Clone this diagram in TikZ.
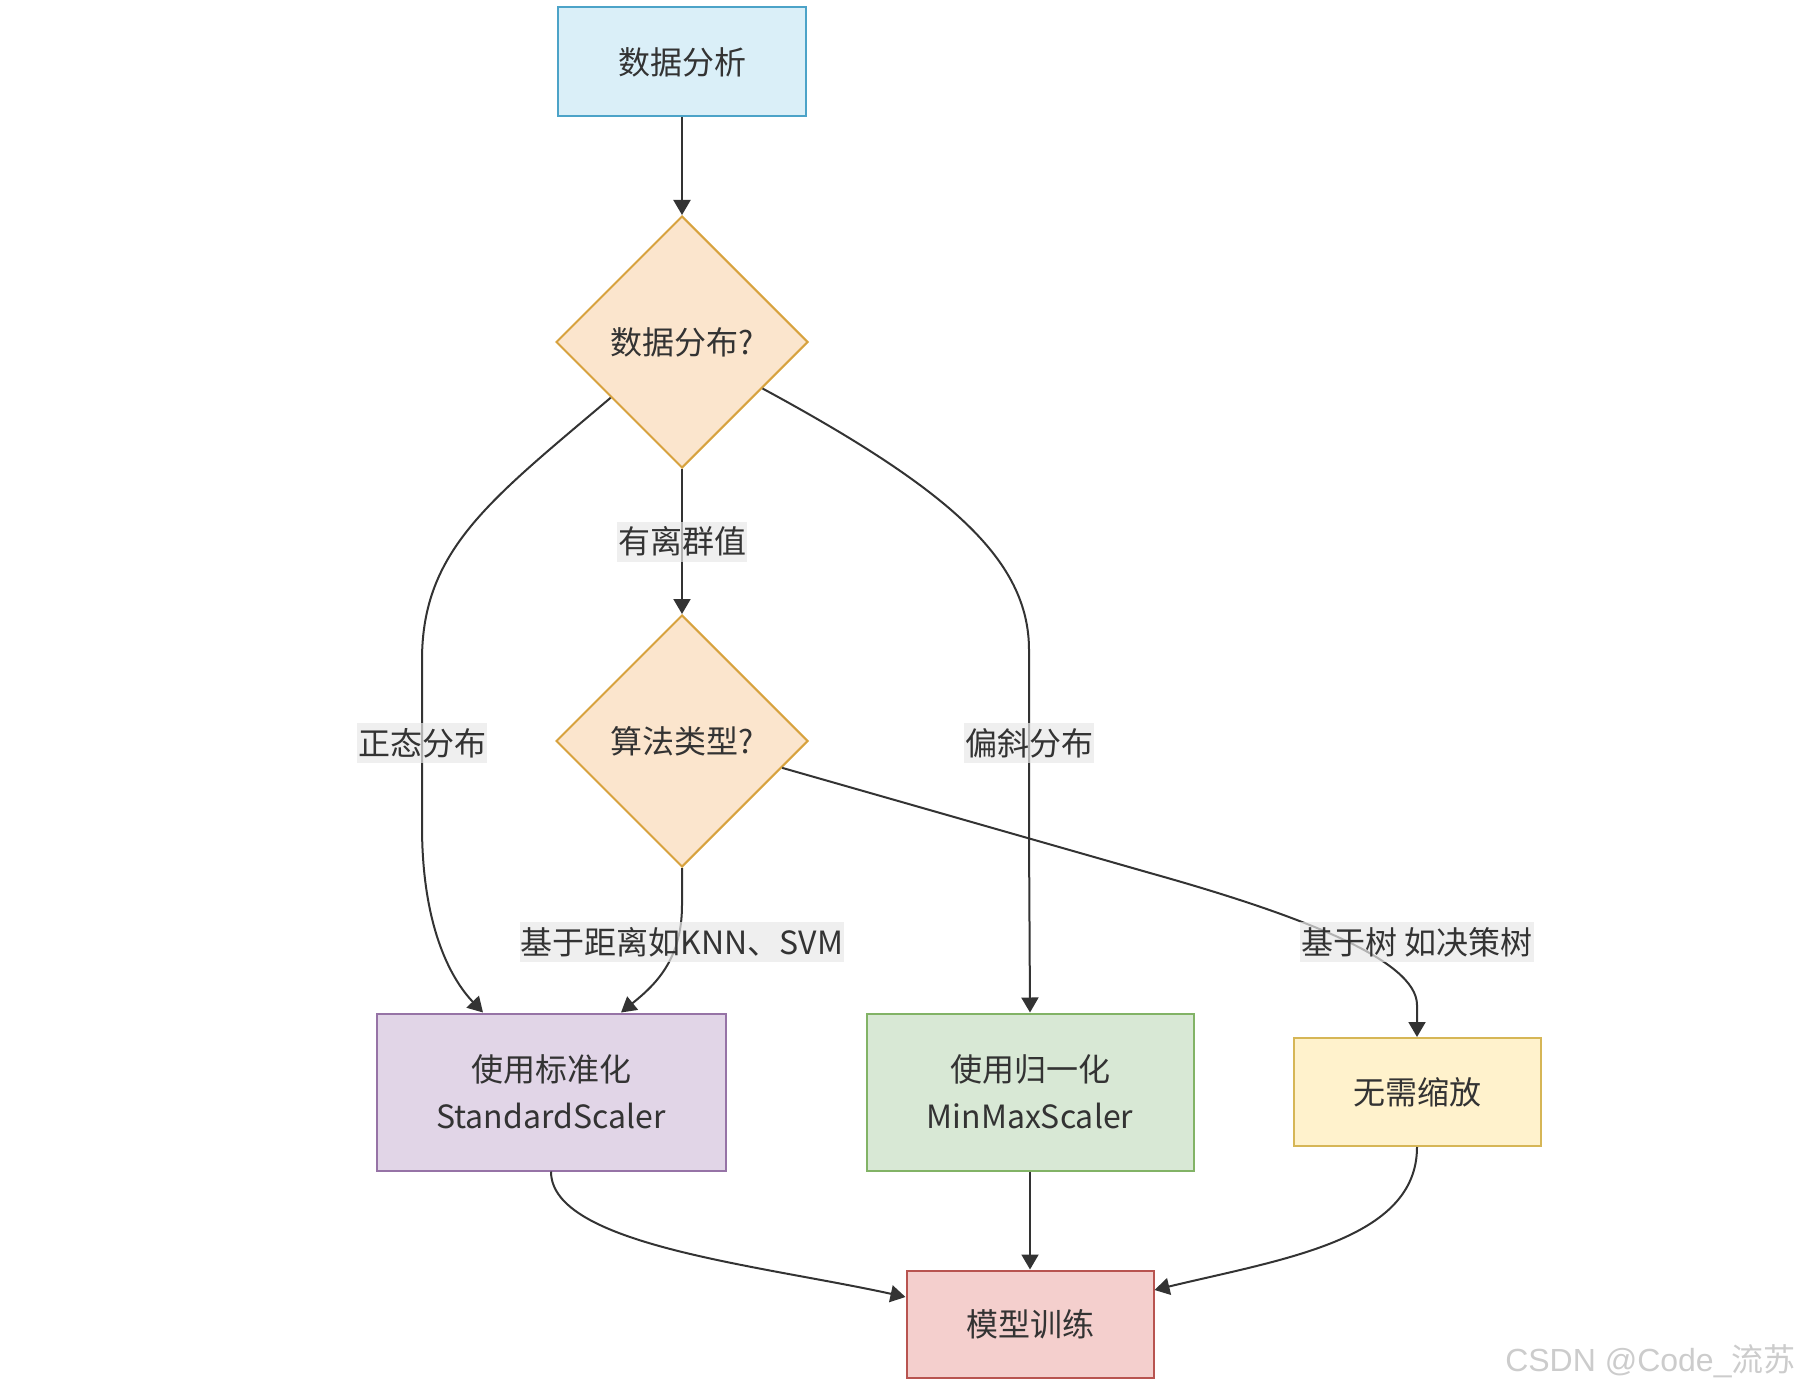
\documentclass[tikz,border=0pt]{standalone}
\usepackage{fontspec}
\setmainfont{Noto Sans CJK SC}
\newfontfamily\wmfont{Liberation Sans}
\usetikzlibrary{shapes.geometric,arrows.meta,calc}

\definecolor{txt}{HTML}{333333}
\definecolor{blueF}{RGB}{218,239,248}
\definecolor{blueD}{RGB}{76,163,200}
\definecolor{orangeF}{RGB}{251,229,205}
\definecolor{orangeD}{RGB}{215,162,62}
\definecolor{purpleF}{HTML}{E1D5E7}
\definecolor{purpleD}{HTML}{9673A6}
\definecolor{greenF}{HTML}{D8E8D5}
\definecolor{greenD}{HTML}{82B366}
\definecolor{yellowF}{HTML}{FFF2CC}
\definecolor{yellowD}{HTML}{D6B656}
\definecolor{redF}{HTML}{F4CFCD}
\definecolor{redD}{HTML}{B85450}
\definecolor{lblF}{RGB}{232,232,232}

\tikzset{
	every node/.style={text=txt,font=\fontsize{16pt}{23.5pt}\selectfont},
	box/.style={draw,line width=1pt,inner sep=0pt,align=center},
	decide/.style={diamond,draw=orangeD,fill=orangeF,line width=1pt,minimum width=126pt,minimum height=126pt,inner sep=0pt},
	lbl/.style={fill=lblF,fill opacity=0.7,text opacity=1,inner xsep=0.5pt,inner ysep=0pt,minimum height=20pt},
	arr/.style={draw=txt,line width=1pt,-{Triangle[length=7.5pt,width=8.5pt]}}
}

\begin{document}
\begin{tikzpicture}[x=0.5pt,y=-0.5pt]
				\useasboundingbox (0,0) rectangle (1803,1390);
				
				\node[box,draw=blueD,fill=blueF,minimum width=124pt,minimum height=54.5pt] (ana) at (682,62) {数据分析};
				\node[decide] (dist) at (682,342) {数据分布?};
				\node[decide] (algo) at (682,741) {算法类型?};
				\node[box,draw=purpleD,fill=purpleF,minimum width=174.5pt,minimum height=78.5pt] (std) at (551,1092) {使用标准化\\StandardScaler};
				\node[box,draw=greenD,fill=greenF,minimum width=163.5pt,minimum height=78.5pt] (mm) at (1030,1092) {使用归一化\\MinMaxScaler};
				\node[box,draw=yellowD,fill=yellowF,minimum width=123.5pt,minimum height=54pt] (none) at (1417,1092) {无需缩放};
				\node[box,draw=redD,fill=redF,minimum width=123.5pt,minimum height=53.5pt] (train) at (1030,1324) {模型训练};
				
				\draw[arr] (ana.south) -- (dist.north);
				\draw[arr] (dist.218) .. controls (490,500) and (422,550) .. (422,660) -- node[lbl] (lnorm) {正态分布} (422,826) .. controls (422,925) and (450,978) .. ($(std.north)+(-68,0)$);
				\draw[arr] (dist.south) -- node[lbl] (lout) {有离群值} (algo.north);
				\draw[arr] (dist.-30) .. controls (950,490) and (1029,560) .. (1029,650) -- node[lbl] (lskew) {偏斜分布} (1029,836) -- (mm.north);
				\draw[arr] (algo.south) -- (682,905) .. controls (682,960) and (655,985) .. ($(std.north)+(70,0)$);
				\node[lbl] (ldist) at (682,942) {基于距离如KNN、SVM};
				\draw[arr] (algo.-15) -- (1150,873) .. controls (1300,915) and (1417,960) .. (1417,1005) -- (none.north);
				\node[lbl] (ltree) at (1417,942) {基于树 如决策树};
				
				\draw[arr] (std.south) .. controls (551,1245) and (760,1265) .. ($(train.west)+(0,-27)$);
				\draw[arr] (mm.south) -- (train.north);
				\draw[arr] (none.south) .. controls (1417,1240) and (1283,1259) .. ($(train.east)+(0,-34)$);
				
				\node[text=gray!40,anchor=east,inner sep=0pt,font=\fontsize{16pt}{20pt}\selectfont] (mark) at (1796,1361) {{\wmfont CSDN @Code\_}流苏};
\end{tikzpicture}
\end{document}
